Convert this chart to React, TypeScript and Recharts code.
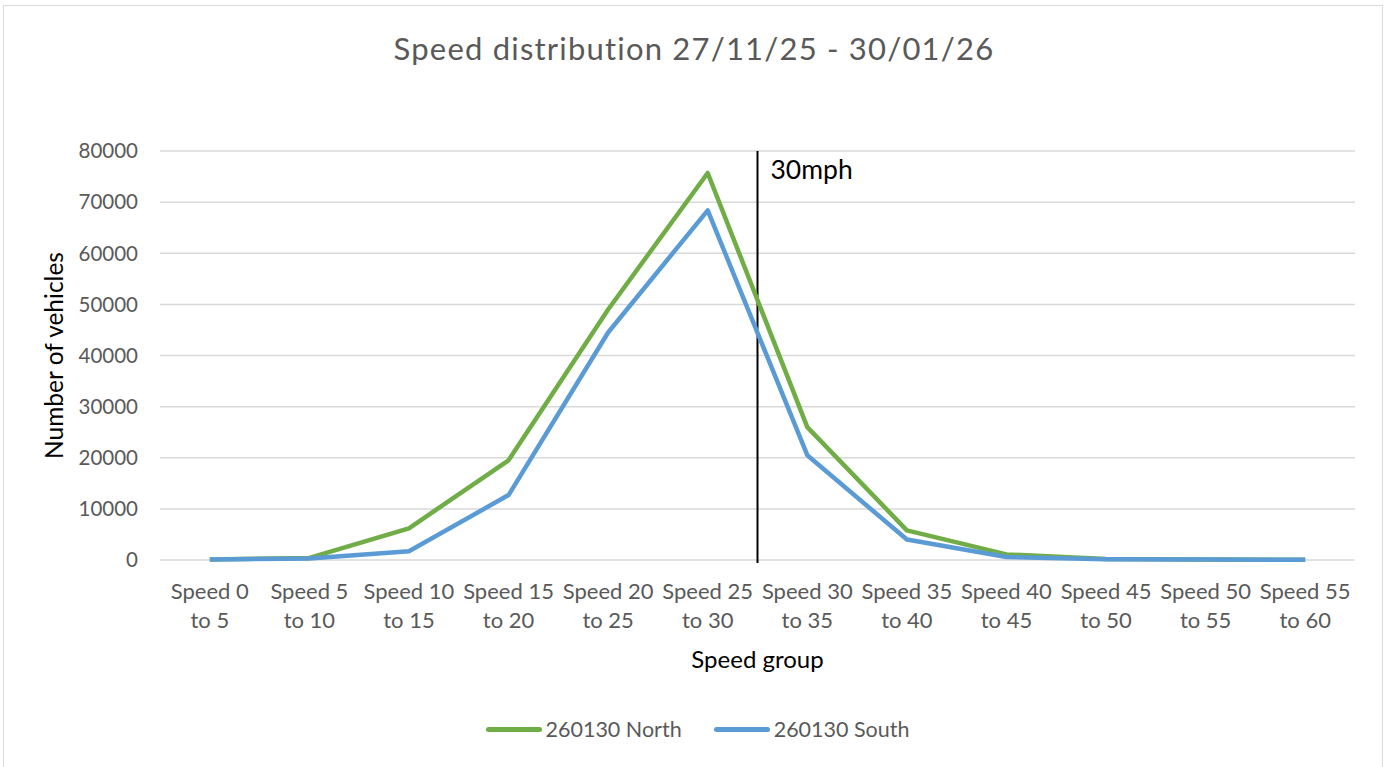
import { CartesianGrid, Legend, Line, LineChart, ReferenceLine, XAxis, YAxis } from "recharts";

const categories = [
  "Speed 0 to 5",
  "Speed 5 to 10",
  "Speed 10 to 15",
  "Speed 15 to 20",
  "Speed 20 to 25",
  "Speed 25 to 30",
  "Speed 30 to 35",
  "Speed 35 to 40",
  "Speed 40 to 45",
  "Speed 45 to 50",
  "Speed 50 to 55",
  "Speed 55 to 60",
];
const north = [100, 400, 6200, 19500, 49000, 75700, 26000, 5800, 1100, 200, 100, 50];
const south = [100, 300, 1700, 12700, 44500, 68400, 20500, 4000, 600, 150, 80, 50];
const yTicks = [0, 10000, 20000, 30000, 40000, 50000, 60000, 70000, 80000];
const limitPosition = 5.5; // between 25-30 and 30-35
const limitLabel = "30mph";

const FONT = "Lato, 'Open Sans', sans-serif";
const GREY = "#595959";
const GREEN = "#70AD47";
const BLUE = "#5B9BD5";

const data = categories.map((name, idx) => ({ idx, name, north: north[idx], south: south[idx] }));

function SpeedTick(props: { x?: number; y?: number; payload?: { value: number } }) {
  const { x = 0, y = 0, payload } = props;
  const label = categories[payload?.value ?? 0] ?? "";
  const cut = label.indexOf(" to ");
  const first = label.slice(0, cut);
  const second = label.slice(cut + 1);
  return (
    <text x={x} textAnchor="middle" fill={GREY} fontSize={22} fontFamily={FONT}>
      <tspan x={x} y={y + 39}>{first}</tspan>
      <tspan x={x} y={y + 68}>{second}</tspan>
    </text>
  );
}

function LegendContent() {
  const items = [
    { name: "260130 North", color: GREEN },
    { name: "260130 South", color: BLUE },
  ];
  return (
    <div style={{ display: "flex", justifyContent: "center", height: 30, alignItems: "center", fontFamily: FONT }}>
      {items.map((item) => (
        <div key={item.name} style={{ display: "flex", alignItems: "center", margin: "0 16px" }}>
          <span style={{ display: "inline-block", width: 56, height: 5, borderRadius: 3, background: item.color, marginRight: 4 }} />
          <span style={{ fontSize: 21.5, color: GREY }}>{item.name}</span>
        </div>
      ))}
    </div>
  );
}

export default function App() {
  return (
    <div style={{ position: "fixed", left: 0, top: 0, width: 1395, height: 767, overflow: "hidden", background: "#fff" }}>
      <div
        style={{
          position: "absolute",
          left: 3,
          top: 5,
          width: 1380,
          height: 800,
          border: "1.5px solid #D9D9D9",
          boxSizing: "border-box",
        }}
      />
      <div
        style={{
          position: "absolute",
          top: 29,
          left: 0,
          width: 1388,
          textAlign: "center",
          fontFamily: FONT,
          fontSize: 31,
          letterSpacing: 1.2,
          color: GREY,
        }}
      >
        Speed distribution 27/11/25 - 30/01/26
      </div>
      <div style={{ position: "absolute", left: 0, top: 0 }}>
        <LineChart width={1395} height={767} data={data} margin={{ top: 151, right: 40, left: 40, bottom: 57 }}>
          <CartesianGrid stroke="#D9D9D9" strokeWidth={1.5} vertical={false} />
          <XAxis
            type="number"
            dataKey="idx"
            domain={[-0.5, 11.5]}
            ticks={categories.map((_, i) => i)}
            interval={0}
            axisLine={false}
            tickLine={false}
            tickSize={0}
            tickMargin={0}
            height={120}
            tick={<SpeedTick />}
            label={{
              content: (p: { viewBox?: { x: number; y: number; width: number } }) => {
                const vb = p.viewBox ?? { x: 0, y: 0, width: 0 };
                return (
                  <text x={vb.x + vb.width / 2} y={vb.y + 108} textAnchor="middle" fontSize={24} fontFamily={FONT} fill="#000">
                    Speed group
                  </text>
                );
              },
            }}
          />
          <YAxis
            domain={[0, 80000]}
            ticks={yTicks}
            axisLine={false}
            tickLine={false}
            tickSize={0}
            tickMargin={22}
            width={120}
            tick={{ fill: GREY, fontSize: 20.5, fontFamily: FONT }}
            label={{
              content: (p: { viewBox?: { x: number; y: number; height: number } }) => {
                const vb = p.viewBox ?? { x: 0, y: 0, height: 0 };
                const cx = 63;
                const cy = vb.y + vb.height / 2;
                return (
                  <text
                    x={cx}
                    y={cy}
                    transform={`rotate(-90 ${cx} ${cy})`}
                    textAnchor="middle"
                    fontSize={24.5}
                    fontFamily={FONT}
                    fill="#000"
                  >
                    Number of vehicles
                  </text>
                );
              },
            }}
          />
          <ReferenceLine
            segment={[
              { x: limitPosition, y: 80000 },
              { x: limitPosition, y: -600 },
            ]}
            ifOverflow="visible"
            stroke="#000"
            strokeWidth={2}
            label={{
              content: (p: { viewBox?: { x: number; y: number } }) => {
                const vb = p.viewBox ?? { x: 0, y: 0 };
                return (
                  <text x={vb.x + 13} y={vb.y + 28} fontSize={26.5} fontFamily={FONT} fill="#000">
                    {limitLabel}
                  </text>
                );
              },
            }}
          />
          <Line
            type="linear"
            dataKey="north"
            name="260130 North"
            stroke={GREEN}
            strokeWidth={4.5}
            strokeLinejoin="round"
            dot={false}
            isAnimationActive={false}
          />
          <Line
            type="linear"
            dataKey="south"
            name="260130 South"
            stroke={BLUE}
            strokeWidth={4.5}
            strokeLinejoin="round"
            dot={false}
            isAnimationActive={false}
          />
          <Legend
            verticalAlign="bottom"
            content={<LegendContent />}
            wrapperStyle={{ top: 714, bottom: "auto", left: 0, width: 1395 }}
          />
        </LineChart>
      </div>
    </div>
  );
}
